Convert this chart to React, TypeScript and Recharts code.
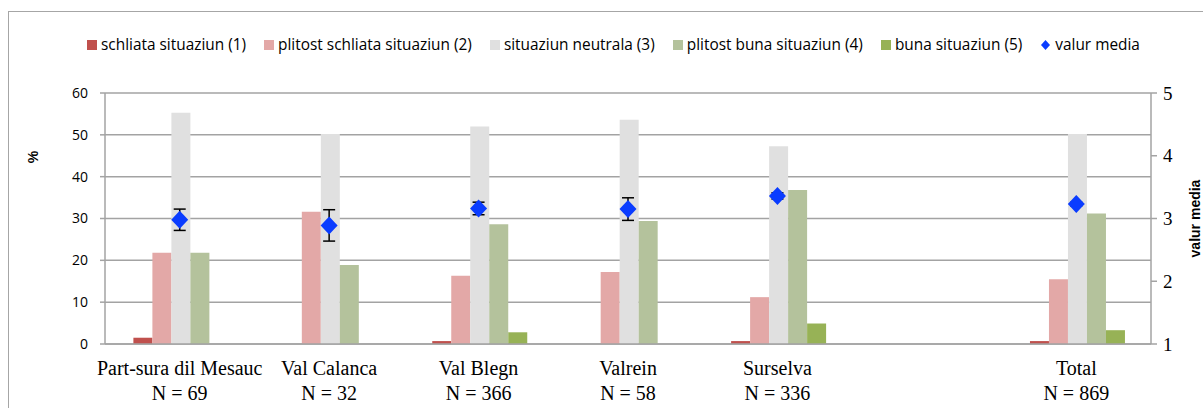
import { ComposedChart, Bar, Line, Scatter, XAxis, YAxis, CartesianGrid, ErrorBar } from "recharts";

const categories = ["Part-sura dil Mesauc", "Val Calanca", "Val Blegn", "Valrein", "Surselva", "", "Total"];
const nLabels = ["N = 69", "N = 32", "N = 366", "N = 58", "N = 336", "", "N = 869"];

const schliata = [1.5, 0, 0.7, 0, 0.7, null, 0.7];
const plitostSchliata = [21.8, 31.6, 16.3, 17.2, 11.2, null, 15.5];
const neutrala = [55.3, 50.2, 52.0, 53.6, 47.3, null, 50.2];
const plitostBuna = [21.8, 18.9, 28.6, 29.4, 36.8, null, 31.2];
const buna = [0, 0, 2.8, 0, 4.9, null, 3.3];
const valurMedia = [2.98, 2.89, 3.16, 3.15, 3.36, null, 3.23];
const errMedia = [0.17, 0.25, 0.1, 0.18, 0.05, null, 0.03];

const percentTicks = [0, 10, 20, 30, 40, 50, 60];
const mediaTicks = [1, 2, 3, 4, 5];
const edgeTicks = [0, 1, 2, 3, 4, 5, 6, 7];

const seriesNames = [
  "schliata situaziun (1)",
  "plitost schliata situaziun (2)",
  "situaziun neutrala (3)",
  "plitost buna situaziun (4)",
  "buna situaziun (5)",
];
const seriesColors = ["#C0504D", "#E3A8A7", "#E0E0E0", "#B4C29C", "#97B256"];
const mediaName = "valur media";
const mediaColor = "#0A3CFF";

const data = categories.map((name, i) => ({
  name,
  s1: schliata[i],
  s2: plitostSchliata[i],
  s3: neutrala[i],
  s4: plitostBuna[i],
  s5: buna[i],
  media: valurMedia[i],
  err: errMedia[i],
}));

const gridColor = "#A3A3A3";

function CategoryTick(props: any) {
  const { x, y, payload, index } = props;
  return (
    <g transform={`translate(${x},${y})`}>
      <text textAnchor="middle" fontFamily="'Liberation Serif', serif" fontSize={20} fill="#000">
        <tspan x={0} dy={31}>{payload.value}</tspan>
        <tspan x={0} dy={25}>{nLabels[index]}</tspan>
      </text>
    </g>
  );
}

function Diamond(props: any) {
  const { cx, cy, payload } = props;
  if (cx == null || cy == null || isNaN(cy) || payload?.media == null) return null;
  return (
    <path
      d={`M${cx},${cy - 9} L${cx + 8.5},${cy} L${cx},${cy + 9} L${cx - 8.5},${cy} Z`}
      fill={mediaColor}
    />
  );
}

function Legend() {
  return (
    <div
      style={{
        position: "absolute",
        left: 87,
        top: 34,
        display: "flex",
        gap: 18,
        fontFamily: "'Open Sans', sans-serif",
        fontSize: 15.4,
        color: "#000",
        whiteSpace: "nowrap",
      }}
    >
      {seriesNames.map((n, i) => (
        <div key={n} style={{ display: "flex", alignItems: "center" }}>
          <span style={{ width: 10, height: 10, background: seriesColors[i], marginRight: 4 }} />
          <span>{n}</span>
        </div>
      ))}
      <div style={{ display: "flex", alignItems: "center" }}>
        <svg width={11} height={12} style={{ marginRight: 4 }}>
          <path d="M5.5,1 L10,6 L5.5,11 L1,6 Z" fill={mediaColor} />
        </svg>
        <span>{mediaName}</span>
      </div>
    </div>
  );
}

export default function App() {
  return (
    <div style={{ position: "absolute", left: 0, top: 0, width: 1203, height: 408, background: "#fff", overflow: "hidden" }}>
      <div
        style={{
          position: "absolute",
          left: 8,
          top: 11,
          right: -10,
          bottom: -10,
          borderTop: "1.5px solid #A6A6A6",
          borderLeft: "1.5px solid #A6A6A6",
        }}
      />
      <Legend />
      <div style={{ position: "absolute", left: 0, top: 0 }}>
        <ComposedChart
          width={1203}
          height={408}
          data={data}
          margin={{ top: 93, right: 0, bottom: 0, left: 0 }}
          barCategoryGap="19%"
          barGap={0}
        >
          <CartesianGrid yAxisId="left" vertical={false} stroke={gridColor} strokeWidth={1.5} />
          <XAxis
            xAxisId="edges"
            type="number"
            domain={[0, 7]}
            ticks={edgeTicks}
            tick={false}
            tickSize={5}
            tickLine={{ stroke: gridColor, strokeWidth: 1.5 }}
            axisLine={false}
            height={0}
            allowDataOverflow
          />
          <XAxis
            dataKey="name"
            tick={<CategoryTick />}
            tickLine={false}
            tickSize={0}
            tickMargin={0}
            interval={0}
            axisLine={{ stroke: gridColor, strokeWidth: 1.5 }}
            height={64}
          />
          <YAxis
            yAxisId="left"
            domain={[0, 60]}
            ticks={percentTicks}
            width={105}
            tickSize={5}
            tickMargin={12}
            tickLine={{ stroke: gridColor, strokeWidth: 1.5 }}
            axisLine={{ stroke: gridColor, strokeWidth: 1.5 }}
            tick={{ fill: "#000", fontSize: 14, fontFamily: "'Open Sans', sans-serif" }}
            label={{
              content: (p: any) => {
                const vb = p.viewBox;
                return (
                  <text
                    x={33}
                    y={vb.y + 64}
                    transform={`rotate(-90, 33, ${vb.y + 64})`}
                    textAnchor="middle"
                    dominantBaseline="central"
                    fontFamily="'Liberation Sans', sans-serif"
                    fontWeight="bold"
                    fontSize={14}
                    fill="#000"
                  >
                    %
                  </text>
                );
              },
            }}
          />
          <YAxis
            yAxisId="right"
            orientation="right"
            domain={[1, 5]}
            ticks={mediaTicks}
            width={52}
            tickSize={6}
            tickMargin={6}
            tickLine={{ stroke: gridColor, strokeWidth: 1.5 }}
            axisLine={{ stroke: gridColor, strokeWidth: 1.5 }}
            tick={{ fill: "#000", fontSize: 19, fontFamily: "'Liberation Serif', serif", textAnchor: "start" }}
            label={{
              content: (p: any) => {
                const vb = p.viewBox;
                const cx = vb.x + 44;
                const cy = vb.y + vb.height / 2;
                return (
                  <text
                    x={cx}
                    y={cy}
                    transform={`rotate(-90, ${cx}, ${cy})`}
                    textAnchor="middle"
                    dominantBaseline="central"
                    fontFamily="'Liberation Sans', sans-serif"
                    fontWeight="bold"
                    fontSize={14}
                    fill="#000"
                  >
                    {mediaName}
                  </text>
                );
              },
            }}
          />
          <Bar yAxisId="left" dataKey="s1" fill={seriesColors[0]} isAnimationActive={false} />
          <Bar yAxisId="left" dataKey="s2" fill={seriesColors[1]} isAnimationActive={false} />
          <Bar yAxisId="left" dataKey="s3" fill={seriesColors[2]} isAnimationActive={false} />
          <Bar yAxisId="left" dataKey="s4" fill={seriesColors[3]} isAnimationActive={false} />
          <Bar yAxisId="left" dataKey="s5" fill={seriesColors[4]} isAnimationActive={false} />
          {/* error bars on an invisible line, diamonds on a scatter above them */}
          <Line
            yAxisId="right"
            dataKey="media"
            stroke="none"
            dot={false}
            activeDot={false}
            legendType="none"
            isAnimationActive={false}
          >
            <ErrorBar dataKey="err" direction="y" width={6} stroke="#000" strokeWidth={1.5} />
          </Line>
          <Scatter
            yAxisId="right"
            dataKey="media"
            shape={<Diamond />}
            isAnimationActive={false}
            {...({ zIndex: 3000 } as any)}
          />
        </ComposedChart>
      </div>
    </div>
  );
}
